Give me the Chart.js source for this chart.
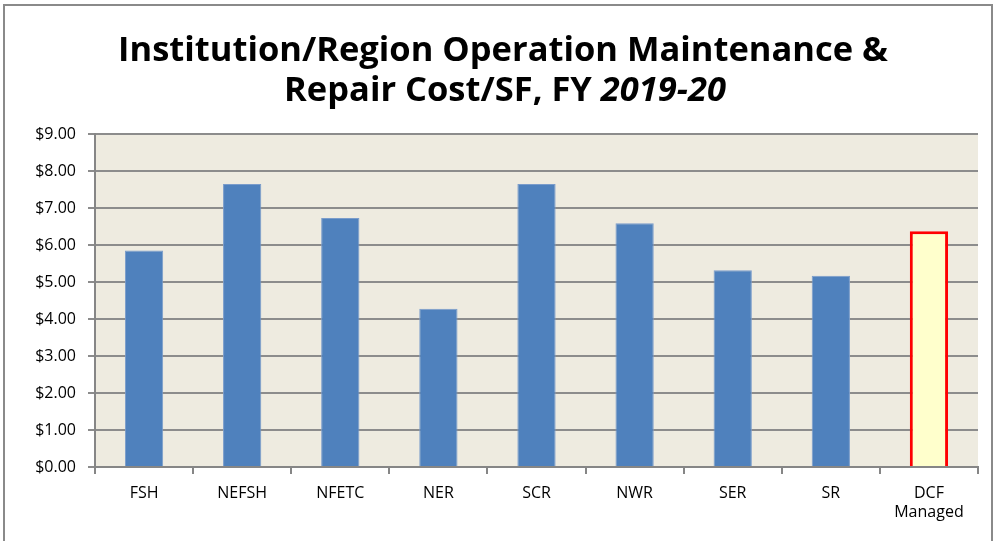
<!DOCTYPE html>
<html>
<head>
<meta charset="utf-8">
<script src="https://cdn.jsdelivr.net/npm/chart.js@4"></script>
<style>
  html, body { margin: 0; padding: 0; background: #fff; }
  #wrap { width: 995px; height: 541px; position: relative; }
</style>
</head>
<body>
<div id="wrap"><canvas id="costChart" width="995" height="541"></canvas></div>
<script>
const categories = ['FSH', 'NEFSH', 'NFETC', 'NER', 'SCR', 'NWR', 'SER', 'SR', ['DCF', 'Managed']];
const costPerSF = [5.85, 7.65, 6.73, 4.28, 7.65, 6.59, 5.32, 5.17, 6.37];
const titleLine1 = 'Institution/Region Operation Maintenance &';
const titleLine2 = 'Repair Cost/SF, FY ';
const titleYear = '2019-20';

const FONT = '"Open Sans", "Noto Sans", sans-serif';

const barFill = costPerSF.map((v, i) => i === costPerSF.length - 1 ? '#FFFFCC' : '#4F81BD');
const barBorder = costPerSF.map((v, i) => i === costPerSF.length - 1 ? '#FF0000' : '#7A9CCB');
const barBorderW = costPerSF.map((v, i) => i === costPerSF.length - 1 ? 3 : 1);

// beige plot area, outer frame and the two-line title with italic year
const decor = {
    id: 'decor',
    beforeDraw(chart) {
        const c = chart.ctx, a = chart.chartArea;
        c.save();
        c.fillStyle = '#EEEBE0';
        c.fillRect(a.left, a.top, a.right - a.left, a.bottom - a.top);
        c.restore();
    },
    afterDraw(chart) {
        const c = chart.ctx;
        c.save();
        c.strokeStyle = '#8a8a8a';
        c.lineWidth = 2;
        c.strokeRect(4, 5, 988, 545);

        c.fillStyle = '#000';
        c.textBaseline = 'alphabetic';
        c.font = 'bold 30px ' + FONT;
        const w1 = c.measureText(titleLine1).width;
        const size = 30 * 770 / w1;
        c.font = 'bold ' + size + 'px ' + FONT;
        c.textAlign = 'center';
        c.fillText(titleLine1, 503, 61);

        const wA = c.measureText(titleLine2).width;
        c.font = 'italic bold ' + size + 'px ' + FONT;
        const wB = c.measureText(titleYear).width;
        const x0 = 505 - (wA + wB) / 2;
        c.textAlign = 'left';
        c.font = 'bold ' + size + 'px ' + FONT;
        c.fillText(titleLine2, x0, 101);
        c.font = 'italic bold ' + size + 'px ' + FONT;
        c.fillText(titleYear, x0 + wA, 101);
        c.restore();
    }
};

new Chart(document.getElementById('costChart'), {
    type: 'bar',
    data: {
        labels: categories,
        datasets: [{
            data: costPerSF,
            backgroundColor: barFill,
            borderColor: barBorder,
            borderWidth: barBorderW,
            categoryPercentage: 1,
            barPercentage: 0.39
        }]
    },
    options: {
        responsive: false,
        animation: false,
        events: [],
        layout: { padding: { top: 134, right: 17, left: 0, bottom: 0 } },
        plugins: { legend: { display: false }, tooltip: { enabled: false } },
        scales: {
            x: {
                afterFit(s) { s.height = 74; },
                grid: { offset: true, drawOnChartArea: false, color: '#868686', lineWidth: 2, tickLength: 7 },
                border: { color: '#868686', width: 2 },
                ticks: { color: '#000', font: { family: FONT, size: 16 }, padding: 10, maxRotation: 0, autoSkip: false }
            },
            y: {
                min: 0, max: 9,
                afterFit(s) { s.width = 95; },
                grid: { color: '#8c8c8c', lineWidth: 2, tickLength: 7 },
                border: { color: '#868686', width: 2 },
                ticks: {
                    stepSize: 1,
                    color: '#000',
                    padding: 12,
                    font: { family: FONT, size: 16 },
                    callback: v => '$' + Number(v).toFixed(2)
                }
            }
        }
    },
    plugins: [decor]
});
</script>
</body>
</html>
